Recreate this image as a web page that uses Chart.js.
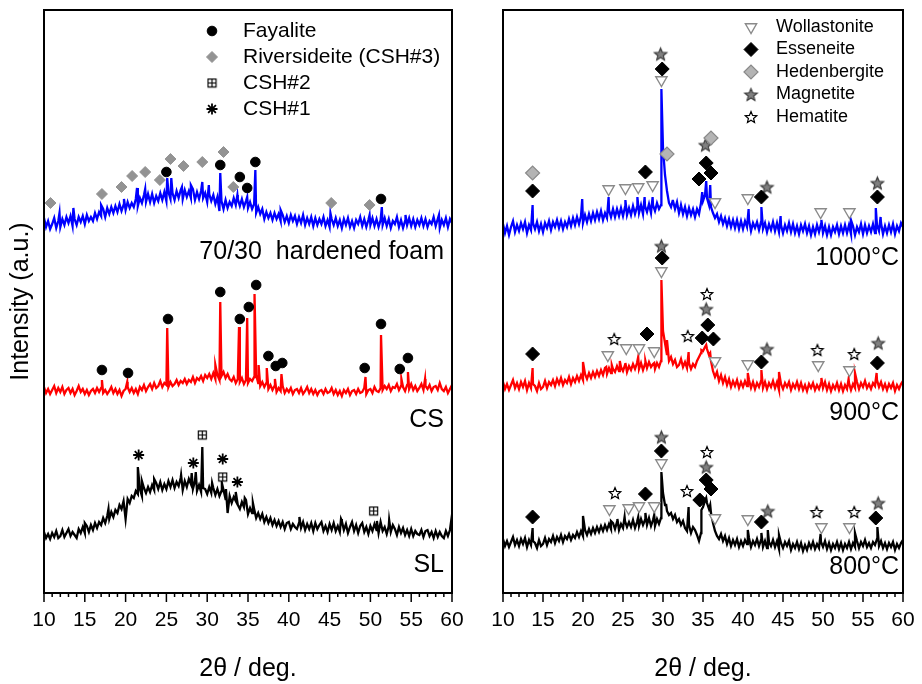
<!DOCTYPE html>
<html>
<head>
<meta charset="utf-8">
<script src="https://cdn.jsdelivr.net/npm/chart.js@4.4.0/dist/chart.umd.min.js"></script>
<style>
  body { margin: 0; background: #fff; }
  #wrap { position: relative; width: 922px; height: 684px; }
  canvas { position: absolute; top: 0; }
</style>
</head>
<body>
<div id="wrap">
  <canvas id="left" width="480" height="684" style="left:0"></canvas>
  <canvas id="right" width="462" height="684" style="left:460px"></canvas>
</div>
<script>
// 2theta grid of the scans, 0.25 deg step from 10 to 60
let theta = [];
for (let i = 0; i <= 200; i++) theta.push(10 + i * 0.25);

// ---- left panel: SL, CS, 70/30 hardened foam (intensity a.u., offset stacked) ----
let slInt = [
  61,55,59,54, 60,56,62,55, 57,63,56,60, 64,57,61,58, 55,64,60,66,
  60,67,61,68, 63,70,65,71, 68,75,70,77, 74,81,76,83, 80,88,84,92,
  74,94,90,97, 95,102,99,104, 97,105,100,106, 101,108,103,110, 104,111,103,109,
  104,112,106,113, 105,111,107,115, 103,112,106,114, 109,104,112,102, 108,101,105,104,
  99,106,100,105, 98,104,97,102, 103,94,80,97, 90,96,92,88, 84,91,86,93,
  79,85,80,84, 75,80,74,79, 71,76,70,75, 68,73,67,72, 66,71,64,70,
  71,64,69,66, 64,70,65,71, 63,69,64,70, 62,70,64,68, 71,62,67,61,
  69,63,70,62, 67,61,72,63, 69,60,66,71, 62,68,60,67, 70,61,66,59,
  67,62,69,63, 60,71,62,66, 59,67,61,68, 64,58,66,60, 65,58,63,57,
  64,57,62,59, 58,63,56,62, 63,57,61,55, 62,56,61,57, 55,62,57,63,
  66
];
let slPeaks = [[15.0,70],[17.9,84],[21.5,126],[22.0,112],[23.5,114],[26.8,118],[28.1,120],[28.6,121],
  [29.4,146],[30.6,110],[31.8,110],[32.3,104],[33.5,101],[34.6,95],[35.6,90],[41.3,76],[46.4,74],
  [50.8,72],[52.3,73],[59.9,72]];

let csInt = [
  206,200,204,199, 203,207,200,205, 201,206,199,203, 205,200,204,198, 202,207,201,204,
  199,203,198,202, 204,200,205,201, 205,200,203,199, 202,206,200,204, 199,203,197,202,
  204,206,201,205, 200,204,199,206, 203,208,202,206, 209,204,210,205, 207,212,206,210,
  208,206,211,207, 209,213,208,212, 210,214,209,213, 211,216,210,215, 213,217,212,218,
  215,219,214,220, 214,218,213,217, 221,215,219,214, 212,216,210,214, 211,215,209,213,
  210,214,212,216, 218,210,207,211, 206,210,204,208, 203,207,201,205, 202,207,200,204,
  201,205,199,203, 204,200,205,199, 202,206,200,204, 199,203,198,202, 203,199,204,200,
  201,205,199,203, 198,202,197,203, 200,204,198,202, 203,199,204,200, 201,205,199,203,
  204,200,206,202, 201,205,203,207, 204,208,202,206, 205,209,203,207, 206,202,208,204,
  209,203,207,202, 205,209,203,207, 204,208,202,206, 207,203,210,204, 202,206,200,204,
  208
];
let csPeaks = [[17.1,213],[20.2,211],[25.1,265],[31.0,228],[31.6,291],[33.9,266],[34.9,275],[35.8,299],
  [36.3,228],[37.3,225],[38.3,214],[39.1,219],[49.4,216],[51.3,258],[53.8,214],[54.6,221],[56.7,214]];

let foamInt = [
  375,366,372,364, 369,375,365,372, 366,374,368,376, 370,377,367,374, 368,376,371,377,
  369,378,372,376, 372,380,374,381, 377,384,376,385, 379,386,380,387, 381,389,382,388,
  383,391,385,390, 386,394,387,395, 390,398,391,399, 391,399,390,397, 392,400,393,401,
  392,401,394,400, 393,402,395,403, 394,403,396,402, 395,404,393,401, 394,402,395,400,
  391,399,392,398, 389,396,382,392, 384,393,385,391, 387,395,388,394, 387,394,386,392,
  385,391,384,389, 380,386,379,384, 374,381,375,380, 373,380,374,379, 372,378,371,377,
  370,378,372,377, 369,376,370,378, 368,375,369,376, 367,375,368,374, 369,376,367,373,
  366,374,368,375, 367,373,365,374, 368,375,366,372, 365,373,369,376, 367,374,366,373,
  368,375,367,374, 366,373,368,375, 367,374,365,372, 369,376,366,373, 365,372,368,375,
  367,374,366,373, 368,375,367,374, 366,372,369,376, 367,374,365,373, 368,375,366,374,
  370
];
let foamPeaks = [[11.9,380],[13.6,385],[17.0,388],[19.8,394],[21.4,405],[22.4,404],[25.1,415],[25.6,415],
  [26.9,406],[28.0,408],[29.4,411],[30.2,408],[31.6,420],[33.7,398],[34.9,396],[35.9,423],[39.0,383],
  [45.1,380],[49.9,378],[51.4,386],[54.3,378],[58.4,378]];

// phase markers, left panel
let fayaliteFoam = [[25.0,421],[31.6,428],[34.0,416],[34.9,405],[35.9,431],[51.3,394]];
let fayaliteCS = [[17.1,223],[20.3,220],[25.2,274],[31.6,301],[34.0,274],[35.1,286],[36.0,308],[37.5,237],
  [38.4,227],[39.2,230],[49.3,225],[51.3,269],[53.6,224],[54.6,235]];
let riversideite = [[10.8,390],[17.1,399],[19.5,406],[20.8,417],[22.4,421],[24.2,413],[25.5,434],[27.1,427],
  [29.4,431],[32.0,441],[33.2,406],[45.2,390],[49.9,388]];
let csh2 = [[29.4,158],[31.9,116],[50.4,82]];
let csh1 = [[21.6,138],[28.3,130],[31.9,134],[33.7,111]];

// ---- right panel: 800, 900, 1000 C ----
let t800Int = [
  54,47,52,46, 51,56,48,53, 47,54,49,55, 46,53,48,52, 50,45,53,47,
  49,55,48,54, 51,57,50,56, 52,58,51,57, 54,59,53,58, 55,61,56,62,
  57,63,58,64, 59,65,60,66, 61,67,62,68, 63,69,64,70, 64,71,63,69,
  65,72,66,71, 66,73,65,71, 67,74,68,73, 68,75,67,73, 67,74,69,75,
  100,88,82,78, 80,74,78,71, 74,68,72,65, 62,68,60,66, 63,58,52,60,
  86,92,90,84, 80,70,62,57, 54,59,52,57, 49,55,47,53, 48,54,46,52,
  47,53,49,55, 46,52,48,54, 47,53,46,52, 45,51,47,53, 46,52,44,50,
  45,51,47,52, 43,49,45,51, 44,50,42,48, 43,50,45,51, 44,49,45,51,
  46,52,44,50, 43,49,45,51, 44,50,43,49, 45,51,44,50, 46,52,45,51,
  47,53,46,50, 45,51,48,54, 47,52,45,50, 44,50,46,51, 43,49,45,50,
  53
];
let t800Peaks = [[13.7,65],[20.0,77],[23.5,72],[24.3,74],[25.2,76],[26.9,76],[27.8,80],[28.9,78],[29.8,121],
  [30.4,88],[33.2,86],[34.8,83],[35.4,95],[35.9,88],[40.6,63],[42.3,60],[43.1,63],[44.5,58],[49.7,59],
  [54.0,60],[56.8,66]];

let t900Int = [
  211,204,209,203, 208,213,205,210, 204,211,206,212, 203,210,205,209, 207,202,210,204,
  206,212,205,211, 208,213,207,214, 209,215,208,213, 210,216,209,215, 211,217,212,218,
  213,219,214,220, 215,221,216,222, 217,223,218,225, 219,225,220,224, 221,227,222,226,
  222,228,221,227, 223,229,224,230, 224,230,223,229, 225,231,226,229, 224,230,226,232,
  262,250,238,232, 236,229,233,226, 228,234,226,231, 225,230,224,229, 226,232,236,240,
  242,246,244,238, 232,222,216,221, 212,218,210,216, 208,214,206,212, 207,213,205,211,
  206,212,207,213, 205,211,204,210, 206,212,205,211, 204,210,206,212, 205,211,203,209,
  204,210,206,211, 203,209,205,211, 204,210,203,208, 202,209,205,210, 203,208,204,210,
  205,211,203,209, 202,208,204,210, 203,209,202,208, 204,210,203,209, 205,211,204,210,
  206,212,205,209, 204,210,207,213, 206,211,204,209, 203,209,205,210, 202,208,204,209,
  212
];
let t900Peaks = [[13.7,225],[20.0,231],[22.9,226],[23.6,228],[24.6,232],[25.3,230],[26.9,236],[27.8,232],
  [28.9,230],[29.8,313],[30.5,253],[33.2,241],[34.8,243],[35.4,248],[35.9,240],[40.6,220],[42.3,223],
  [44.5,221],[49.8,215],[53.2,214],[54.0,220],[56.7,220]];

let t1000Int = [
  369,360,367,358, 366,372,361,368, 362,370,364,371, 360,368,363,370, 364,371,362,369,
  361,370,365,372, 363,371,366,373, 365,372,364,371, 366,374,367,375, 368,376,369,377,
  370,378,371,379, 372,380,373,381, 374,382,373,380, 375,383,376,384, 376,384,377,385,
  377,386,378,385, 378,387,379,386, 380,388,379,387, 381,389,380,388, 382,390,384,388,
  445,418,402,390, 386,392,384,391, 380,388,379,386, 377,385,378,384, 376,384,379,390,
  392,398,395,388, 386,380,375,379, 371,377,369,375, 367,374,366,373, 365,373,364,372,
  364,372,366,373, 362,370,365,371, 363,371,364,370, 361,369,363,371, 362,370,361,368,
  360,368,362,370, 361,369,360,367, 359,368,362,369, 360,367,358,366, 359,368,361,369,
  360,367,358,366, 358,366,361,368, 359,367,360,368, 360,368,359,367, 358,366,361,369,
  359,368,360,367, 361,369,360,368, 362,370,359,367, 360,368,361,369, 359,367,362,370,
  366
];
let t1000Peaks = [[13.7,388],[19.9,394],[23.2,396],[25.3,393],[26.8,396],[27.7,396],[28.7,396],[29.8,504],
  [31.2,392],[32.2,386],[34.9,401],[35.4,412],[35.9,408],[40.7,384],[42.3,386],[44.7,377],[49.8,373],
  [53.5,373],[56.6,385],[57.2,376]];

// phase markers, right panel
let wollastonite = [[23.2,404],[25.3,405],[26.9,406],[28.7,408],[29.8,513],[36.5,391],[40.6,395],[49.7,381],[53.3,381],
  [23.1,238],[25.4,245],[27.0,245],[28.9,242],[29.8,322],[36.5,232],[40.6,229],[49.4,228],[53.3,223],
  [23.3,84],[25.7,85],[27.0,87],[28.9,87],[29.8,130],[36.5,75],[40.6,74],[49.8,66],[53.3,66]];
let esseneite = [[13.7,402],[27.8,421],[29.9,524],[34.5,414],[35.4,430],[36.0,420],[42.3,396],[56.8,396],
  [13.7,239],[28.0,259],[29.9,335],[34.9,255],[35.6,268],[36.3,254],[42.3,231],[56.8,230],
  [13.7,76],[27.8,99],[29.8,142],[34.6,93],[35.4,113],[36.0,104],[42.3,71],[56.6,75]];
let hedenbergite = [[13.7,420],[30.5,439],[36.0,455]];
let magnetite = [[29.7,539],[35.3,448],[43.0,406],[56.8,410],
  [29.8,347],[35.4,284],[43.0,244],[56.9,250],
  [29.8,156],[35.4,126],[43.1,82],[56.9,90]];
let hematite = [[23.9,254],[33.1,257],[35.5,299],[49.3,243],[53.9,239],
  [24.0,100],[33.0,102],[35.5,141],[49.2,81],[53.9,81]];

let FONT = "'Liberation Sans', Arial, sans-serif";

function trace(values, peaks) {
  let pts = values.map((v, i) => ({ x: theta[i], y: v }));
  peaks.forEach(p => pts.push({ x: p[0], y: p[1] }));
  pts.sort((a, b) => a.x - b.x);
  return pts;
}

function xy(list) {
  return list.map(p => ({ x: p[0], y: p[1] }));
}

function starImage(fill, stroke, r) {
  let c = document.createElement("canvas");
  let s = Math.ceil(2 * r + 4);
  c.width = s; c.height = s;
  let g = c.getContext("2d");
  g.translate(s / 2, s / 2 + r * 0.1);
  g.beginPath();
  for (let k = 0; k < 10; k++) {
    let rr = k % 2 ? r * 0.45 : r;
    let a = -Math.PI / 2 + k * Math.PI / 5;
    g.lineTo(rr * Math.cos(a), rr * Math.sin(a));
  }
  g.closePath();
  g.fillStyle = fill; g.fill();
  g.strokeStyle = stroke; g.lineWidth = 1.2; g.stroke();
  return c;
}

function boxPlusImage() {
  let c = document.createElement("canvas");
  c.width = 11; c.height = 11;
  let g = c.getContext("2d");
  g.fillStyle = "#fff"; g.fillRect(1, 1, 9, 9);
  g.strokeStyle = "#000"; g.lineWidth = 1.2;
  g.strokeRect(1.5, 1.5, 8, 8);
  g.beginPath(); g.moveTo(5.5, 1.5); g.lineTo(5.5, 9.5); g.moveTo(1.5, 5.5); g.lineTo(9.5, 5.5); g.stroke();
  return c;
}

let styles = {
  fayalite: { pointStyle: "circle", radius: 4.8, backgroundColor: "#000", borderColor: "#000", borderWidth: 1 },
  riversideite: { pointStyle: "rectRot", radius: 5.5, backgroundColor: "#939393", borderColor: "#939393", borderWidth: 1 },
  csh2: { pointStyle: boxPlusImage(), radius: 5, backgroundColor: "#fff", borderColor: "#000", borderWidth: 1 },
  csh1: { pointStyle: "star", radius: 5.5, backgroundColor: "#000", borderColor: "#000", borderWidth: 1.8 },
  wollastonite: { pointStyle: "triangle", rotation: 180, radius: 6.5, backgroundColor: "#fff", borderColor: "#8a8a8a", borderWidth: 1.4 },
  esseneite: { pointStyle: "rectRot", radius: 7, backgroundColor: "#000", borderColor: "#000", borderWidth: 1 },
  hedenbergite: { pointStyle: "rectRot", radius: 7, backgroundColor: "#b4b4b4", borderColor: "#8a8a8a", borderWidth: 1.2 },
  magnetite: { pointStyle: starImage("#808080", "#3c3c3c", 6.5), radius: 6, backgroundColor: "#808080", borderColor: "#3c3c3c", borderWidth: 1 },
  hematite: { pointStyle: starImage("#fff", "#000", 6), radius: 6, backgroundColor: "#fff", borderColor: "#000", borderWidth: 1 }
};

function markerSet(label, list, st) {
  return {
    type: "scatter", label: label, data: xy(list), showLine: false,
    pointStyle: st.pointStyle, pointRadius: st.radius, pointRotation: st.rotation || 0,
    pointBackgroundColor: st.backgroundColor, pointBorderColor: st.borderColor, pointBorderWidth: st.borderWidth
  };
}

function lineSet(label, data, color) {
  return {
    type: "scatter", label: label, data: data, showLine: true, pointRadius: 0,
    borderColor: color, borderWidth: 2.3, tension: 0
  };
}

let framePlugin = {
  id: "frame",
  afterDraw(chart, args, opts) {
    let ctx = chart.ctx;
    let a = chart.chartArea;
    let xs = chart.scales.x;
    ctx.save();
    ctx.strokeStyle = "#000";
    ctx.lineWidth = 1.5;
    for (let v = 10; v <= 60; v++) {
      let px = xs.getPixelForValue(v);
      ctx.beginPath();
      ctx.moveTo(px, a.bottom);
      ctx.lineTo(px, a.bottom + (v % 5 === 0 ? 9 : 4));
      ctx.stroke();
    }
    ctx.lineWidth = 2;
    ctx.strokeRect(a.left, a.top, a.right - a.left, a.bottom - a.top);

    // sample names
    ctx.fillStyle = "#000";
    ctx.font = "25px " + FONT;
    ctx.textAlign = "right";
    ctx.textBaseline = "middle";
    opts.names.forEach(n => {
      ctx.fillText(n.text, a.right - opts.nameInset, chart.scales.y.getPixelForValue(n.y));
    });

    // phase legend
    opts.legend.forEach((it, i) => {
      let y = opts.legendY + i * opts.legendDy;
      let st = styles[it.key];
      ctx.fillStyle = st.backgroundColor;
      ctx.strokeStyle = st.borderColor;
      ctx.lineWidth = st.borderWidth;
      Chart.helpers.drawPoint(ctx, { pointStyle: st.pointStyle, radius: st.radius, rotation: st.rotation || 0, borderWidth: st.borderWidth }, opts.legendX, y);
      ctx.fillStyle = "#000";
      ctx.font = opts.legendFont + "px " + FONT;
      ctx.textAlign = "left";
      ctx.fillText(it.label, opts.legendTextX, y);
    });
    ctx.restore();
  }
};

function xScale() {
  return {
    type: "linear", min: 10, max: 60,
    border: { display: false },
    grid: { display: true, drawOnChartArea: false, drawTicks: true, tickLength: 10, color: "rgba(0,0,0,0)" },
    ticks: { stepSize: 5, autoSkip: false, maxRotation: 0, padding: 5, color: "#000", font: { family: FONT, size: 21 } },
    title: { display: true, text: "2\u03b8 / deg.", color: "#000", font: { family: FONT, size: 25 }, padding: { top: 8, bottom: 0 } },
    afterFit: s => { s.height = 91; }
  };
}

new Chart(document.getElementById("left"), {
  type: "scatter",
  data: {
    datasets: [
      markerSet("Fayalite", fayaliteFoam.concat(fayaliteCS), styles.fayalite),
      markerSet("Riversideite (CSH#3)", riversideite, styles.riversideite),
      markerSet("CSH#2", csh2, styles.csh2),
      markerSet("CSH#1", csh1, styles.csh1),
      lineSet("70/30 hardened foam", trace(foamInt, foamPeaks), "#0000ff"),
      lineSet("CS", trace(csInt, csPeaks), "#ff0000"),
      lineSet("SL", trace(slInt, slPeaks), "#000000")
    ]
  },
  options: {
    responsive: false, animation: false, events: [],
    layout: { padding: { left: 0, right: 28, top: 10, bottom: 0 } },
    scales: {
      x: xScale(),
      y: {
        min: 0, max: 583,
        border: { display: false },
        grid: { display: false },
        ticks: { display: false },
        title: { display: true, text: "Intensity (a.u.)", color: "#000", font: { family: FONT, size: 25 }, padding: { top: 6, bottom: 0 } },
        afterFit: s => { s.width = 44; }
      }
    },
    plugins: {
      legend: { display: false },
      tooltip: { enabled: false },
      frame: {
        nameInset: 8,
        names: [{ text: "70/30  hardened foam", y: 341 }, { text: "CS", y: 173 }, { text: "SL", y: 28 }],
        legendX: 212, legendTextX: 243, legendY: 31, legendDy: 26, legendFont: 21,
        legend: [
          { key: "fayalite", label: "Fayalite" },
          { key: "riversideite", label: "Riversideite (CSH#3)" },
          { key: "csh2", label: "CSH#2" },
          { key: "csh1", label: "CSH#1" }
        ]
      }
    }
  },
  plugins: [framePlugin]
});

new Chart(document.getElementById("right"), {
  type: "scatter",
  data: {
    datasets: [
      markerSet("Wollastonite", wollastonite, styles.wollastonite),
      markerSet("Esseneite", esseneite, styles.esseneite),
      markerSet("Hedenbergite", hedenbergite, styles.hedenbergite),
      markerSet("Magnetite", magnetite, styles.magnetite),
      markerSet("Hematite", hematite, styles.hematite),
      lineSet("1000\u00b0C", trace(t1000Int, t1000Peaks), "#0000ff"),
      lineSet("900\u00b0C", trace(t900Int, t900Peaks), "#ff0000"),
      lineSet("800\u00b0C", trace(t800Int, t800Peaks), "#000000")
    ]
  },
  options: {
    responsive: false, animation: false, events: [],
    layout: { padding: { left: 43, right: 19, top: 10, bottom: 0 } },
    scales: {
      x: xScale(),
      y: { display: false, min: 0, max: 583 }
    },
    plugins: {
      legend: { display: false },
      tooltip: { enabled: false },
      frame: {
        nameInset: 4,
        names: [{ text: "1000\u00b0C", y: 335 }, { text: "900\u00b0C", y: 180 }, { text: "800\u00b0C", y: 26 }],
        legendX: 291, legendTextX: 316, legendY: 27, legendDy: 22.5, legendFont: 18,
        legend: [
          { key: "wollastonite", label: "Wollastonite" },
          { key: "esseneite", label: "Esseneite" },
          { key: "hedenbergite", label: "Hedenbergite" },
          { key: "magnetite", label: "Magnetite" },
          { key: "hematite", label: "Hematite" }
        ]
      }
    }
  },
  plugins: [framePlugin]
});
</script>
</body>
</html>
